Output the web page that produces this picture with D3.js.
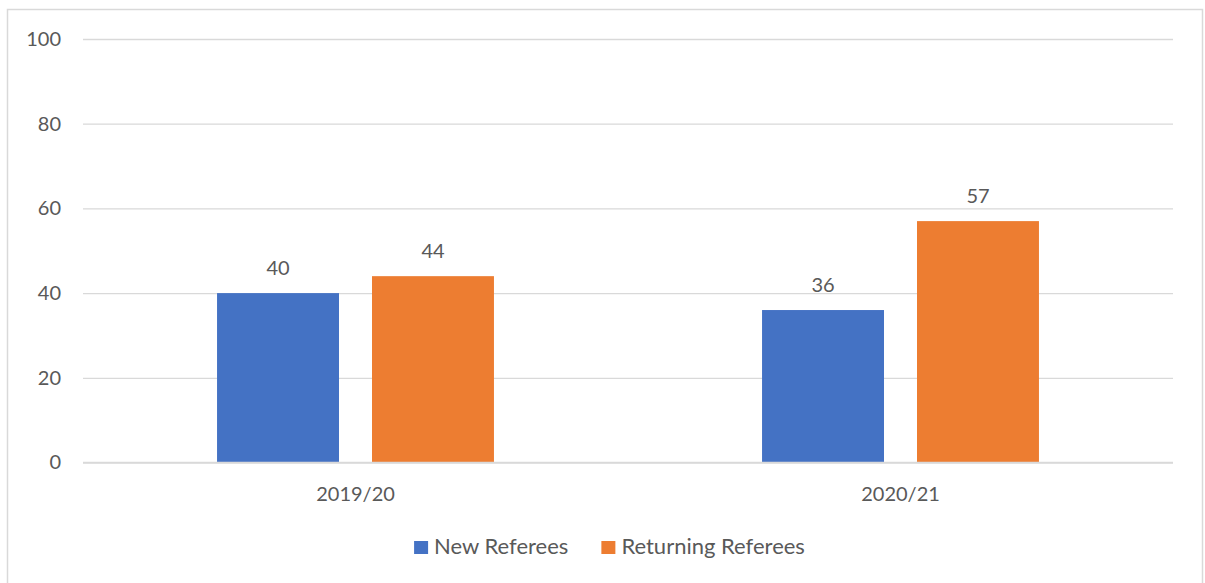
<!DOCTYPE html>
<html>
<head>
<meta charset="utf-8">
<script src="https://cdn.jsdelivr.net/npm/d3@7"></script>
<style>
html,body{margin:0;padding:0;background:#fff;}
svg{display:block;}
text{font-family:Lato,"Open Sans",sans-serif;fill:#595959;}
</style>
</head>
<body>
<svg id="chart" width="1205" height="583"></svg>
<script>
const categories = ["2019/20", "2020/21"];
const seriesNames = ["New Referees", "Returning Referees"];
const newReferees = [40, 36];
const returningReferees = [44, 57];
const yTicks = [0, 20, 40, 60, 80, 100];
const colors = ["#4472C4", "#ED7D31"];

const seriesValues = [newReferees, returningReferees];
const svg = d3.select("#chart");
const fontSize = 20;
const legendFontSize = 22;

// chart border
svg.append("rect").attr("x", 7.5).attr("y", 9.5).attr("width", 1195).attr("height", 600)
  .attr("fill", "#fff").attr("stroke", "#D9D9D9").attr("stroke-width", 1.5);

const plotLeft = 83, plotRight = 1173, plotTop = 39, plotBottom = 462.5;
const y = d3.scaleLinear().domain([0, 100]).range([plotBottom, plotTop]);
const x0 = d3.scaleBand().domain(categories).range([plotLeft, plotRight]);
const x1 = d3.scaleBand().domain(seriesNames).range([0, x0.bandwidth()])
  .paddingInner(0.213).paddingOuter(0.865);

// gridlines
const yAxis = d3.axisLeft(y).tickValues(yTicks).tickSize(-(plotRight - plotLeft)).tickPadding(22);
const gy = svg.append("g").attr("transform", `translate(${plotLeft},0)`).call(yAxis);
gy.select(".domain").remove();
gy.selectAll(".tick line").attr("stroke", "#D9D9D9").attr("stroke-width", 1.3);
gy.selectAll(".tick text").style("font-size", fontSize + "px").attr("fill", "#595959")
  .style("font-family", "Lato, 'Open Sans', sans-serif");

// bars
const groups = svg.append("g").selectAll("g").data(categories).join("g")
  .attr("transform", d => `translate(${x0(d)},0)`);
groups.selectAll("rect").data((c, ci) => seriesNames.map((s, si) => ({s, si, v: seriesValues[si][ci]})))
  .join("rect")
  .attr("x", d => x1(d.s))
  .attr("width", x1.bandwidth())
  .attr("y", d => y(d.v))
  .attr("height", d => y(0) - y(d.v))
  .attr("fill", d => colors[d.si]);
groups.selectAll("text.lbl").data((c, ci) => seriesNames.map((s, si) => ({s, si, v: seriesValues[si][ci]})))
  .join("text").attr("class", "lbl")
  .attr("x", d => x1(d.s) + x1.bandwidth() / 2)
  .attr("y", d => y(d.v) - 18)
  .attr("text-anchor", "middle")
  .style("font-size", fontSize + "px")
  .text(d => d.v);

// zero axis line on top
svg.append("line").attr("x1", plotLeft).attr("x2", plotRight).attr("y1", y(0)).attr("y2", y(0))
  .attr("stroke", "#D9D9D9").attr("stroke-width", 1.3);

// x axis labels
const xAxis = d3.axisBottom(x0).tickSize(0).tickPadding(24);
const gx = svg.append("g").attr("transform", `translate(0,${plotBottom})`).call(xAxis);
gx.select(".domain").remove();
gx.selectAll(".tick text").style("font-size", fontSize + "px").attr("fill", "#595959")
  .style("font-family", "Lato, 'Open Sans', sans-serif");

// legend
const legendY = 554;
const legend = svg.append("g");
const items = legend.selectAll("g").data(seriesNames).join("g");
items.append("rect").attr("width", 14).attr("height", 13).attr("y", legendY - 13)
  .attr("fill", (d, i) => colors[i]);
items.append("text").attr("x", 20).attr("y", legendY).style("font-size", legendFontSize + "px").text(d => d);
const gap = 33;
const widths = [];
items.each(function() { widths.push(this.getBBox().width); });
const total = d3.sum(widths) + gap * (widths.length - 1);
let cx = 609.5 - total / 2;
items.attr("transform", (d, i) => {
  const t = `translate(${cx},0)`;
  cx += widths[i] + gap;
  return t;
});
</script>
</body>
</html>
